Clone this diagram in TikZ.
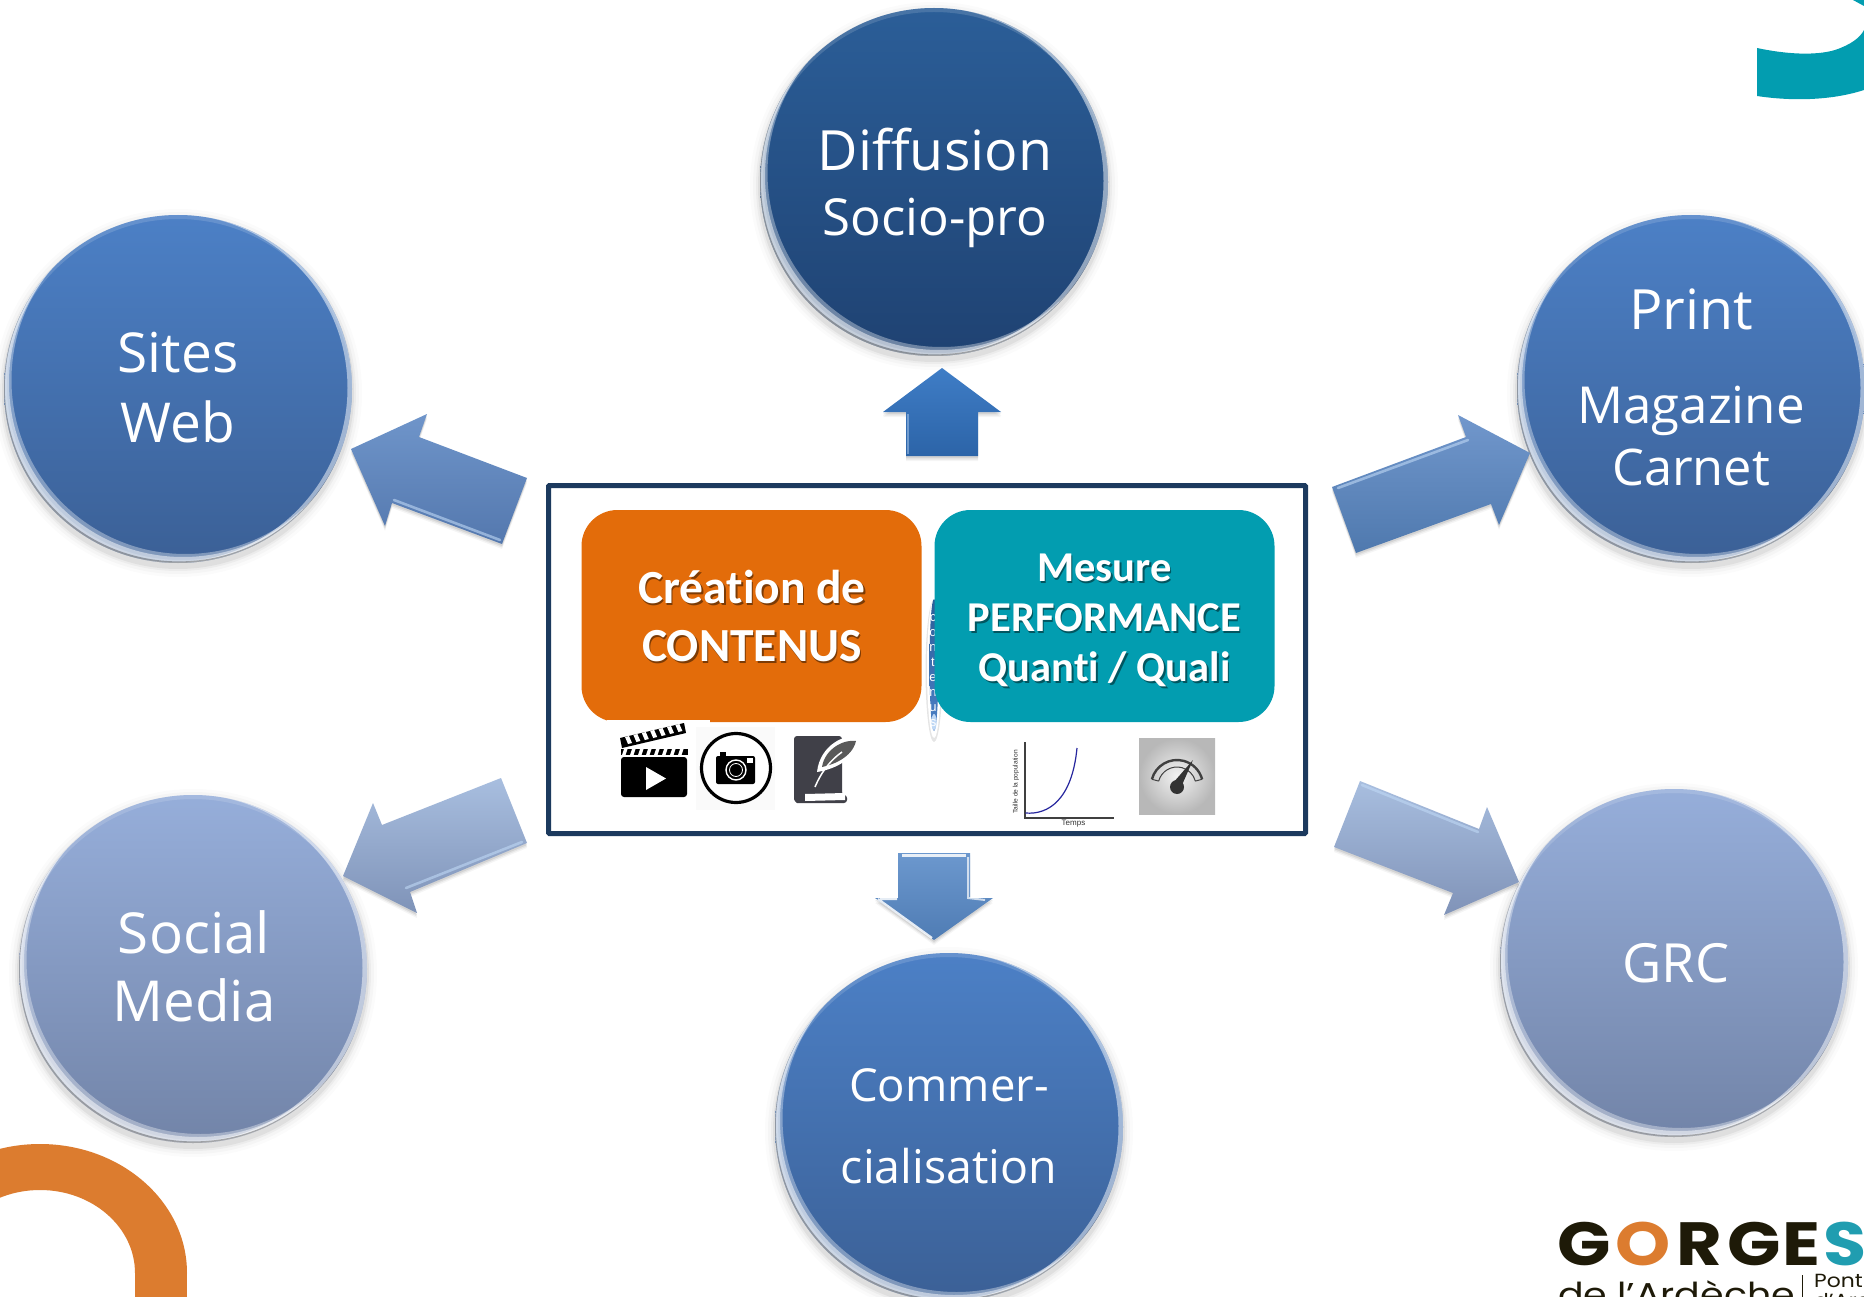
\documentclass[tikz,border=0pt]{standalone}
\usepackage{fontspec}
\setmainfont{Open Sans}
\newfontfamily\carl[Ligatures=NoCommon]{Carlito}
\newfontfamily\popw[FakeStretch=1.15]{Poppins}
\newfontfamily\lib{Liberation Sans}
\usetikzlibrary{calc}
\definecolor{navyA}{HTML}{2B5E98}\definecolor{navyB}{HTML}{1F4272}
\definecolor{midA}{HTML}{4C80C6}\definecolor{midB}{HTML}{3B6096}
\definecolor{paleA}{HTML}{96AEDA}\definecolor{paleB}{HTML}{7284A8}
\definecolor{frame}{HTML}{1C3A5E}
\definecolor{orangeBox}{HTML}{E36C0A}
\definecolor{tealBox}{HTML}{029DB0}
\definecolor{ringOrange}{HTML}{DC7C2F}
\definecolor{logoDark}{HTML}{1E1A08}
\definecolor{logoTeal}{HTML}{209DB0}
\definecolor{hl}{HTML}{BFD8F5}
\definecolor{bookGrey}{HTML}{404048}
\tikzset{
  x=1pt,y=-1pt,
  orbnode/.style={circle,minimum size=348pt,inner sep=0pt,shading=axis,shading angle=0},
  txt/.style={anchor=base,inner sep=0pt,text=white},
  ctxt/.style={anchor=base,inner sep=0pt,text=white,font=\carl\bfseries},
  logo/.style={anchor=base west,inner sep=0pt,font=\popw\bfseries\fontsize{61}{61}\selectfont},
  softline/.style={line cap=round,line width=2.6pt,opacity=.6,color=hl},
}
\newcommand\orb[5]{%
  \foreach \s/\o in {10/.015,7/.025,4/.035,2/.05}{\fill[black,opacity=\o] (#2,#3+4) circle (174+\s);}
  \node[orbnode,top color=#4,bottom color=#5] (#1) at (#2,#3) {};
  \begin{scope}
    \clip (#1.center) circle (174);
    \fill[white,opacity=.2,even odd rule] (#2-200,#3-200) rectangle (#2+200,#3+200) (#2+3,#3-3) circle (174);
    \fill[white,opacity=.5,even odd rule] (#2-200,#3-200) rectangle (#2+200,#3+200) (#2+5,#3-6) circle (174);
    \fill[white,opacity=.35,even odd rule] (#2-200,#3-200) rectangle (#2+200,#3+200) (#2+7.5,#3-9) circle (174);
    \fill[white,opacity=.5,even odd rule] (#2-200,#3-200) rectangle (#2+200,#3+200) (#2-4.5,#3-1) circle (174);
    \fill[white,opacity=.14,even odd rule] (#2-200,#3-200) rectangle (#2+200,#3+200) (#2,#3+4) circle (174);
    \fill[black,opacity=.3,even odd rule] (#2-200,#3-200) rectangle (#2+200,#3+200) (#2+.8,#3-1.6) circle (174);
  \end{scope}
}
\newcommand\tx[5]{\node[txt,font=\fontsize{#4}{#4}\selectfont] (#1) at (#2,#3) {#5};}
\newcommand\ctx[5]{%
  \node[ctxt,text=black,opacity=.45,font=\carl\bfseries\fontsize{#4}{#4}\selectfont] (#1s) at (#2+1.5,#3+2) {#5};
  \node[ctxt,font=\carl\bfseries\fontsize{#4}{#4}\selectfont] (#1) at (#2,#3) {#5};}
\newcommand\barrow[3]{%
  \definecolor{arrA}{HTML}{#2}\definecolor{arrB}{HTML}{#3}%
  \foreach \s/\o in {5/.04,3.5/.06,2/.08}{\fill[black,opacity=\o,yshift=-\s pt] #1 -- cycle;}
  \shade[top color=arrA,bottom color=arrB] #1 -- cycle;
}
\begin{document}
\begin{tikzpicture}
\useasboundingbox (0,0) rectangle (1864,1297);
\clip (0,0) rectangle (1864,1297);
\fill[white] (0,0) rectangle (1864,1297);
% corner decorations
\fill[ringOrange,even odd rule] (40,1273) ellipse (147 and 129) (40,1273) ellipse (95 and 83);
\fill[ringOrange] (135,1273) rectangle (187,1297);
\fill[white] (-60,1273) rectangle (135,1297);
\fill[tealBox] (1757,48) .. controls (1785,54) and (1815,56) .. (1835,50) .. controls (1850,45) and (1860,38) .. (1864,30)
  -- (1864,90) .. controls (1830,101) and (1790,101) .. (1757,96) -- cycle;
\fill[tealBox] (1853,0) -- (1864,0) -- (1864,6) -- cycle;
% circles
\orb{diff}{934}{182}{navyA}{navyB}
\orb{web}{178}{389}{midA}{midB}
\orb{print}{1691}{389}{midA}{midB}
\orb{social}{193}{969}{paleA}{paleB}
\orb{grc}{1674}{963}{paleA}{paleB}
\orb{comm}{949}{1127}{midA}{midB}
% block arrows
\barrow{(942,368) -- (1001,412) -- (978,412) -- (978,456) -- (906,456) -- (906,412) -- (883,412)}{3F7DC6}{2C64A8}
\draw[softline,line cap=butt,opacity=.45] (908,414) -- (908,454);
\barrow{(351,449) -- (427,414) -- (419,437) -- (527,478) -- (502,544) -- (392,503) -- (385,526)}{6F95CA}{5478AE}
\draw[softline] (394,500) -- (500,540);
\barrow{(1530,453) -- (1458,415) -- (1466,437) -- (1332,487) -- (1356,553) -- (1491,504) -- (1499,525)}{7197CC}{4F79AE}
\draw[softline] (1338,488) -- (1468,440);
\barrow{(343,876) -- (373,803) -- (382,825) -- (501,778) -- (527,843) -- (410,892) -- (417,913)}{A8BEDF}{7F93B8}
\draw[softline] (406,888) -- (522,842);
\barrow{(1360,781) -- (1479,829) -- (1487,807) -- (1519,882) -- (1444,915) -- (1453,893) -- (1334,847)}{A8BEDF}{8093B8}
\draw[softline] (1362,785) -- (1478,832);
\barrow{(898,853) -- (970,853) -- (970,898) -- (993,898) -- (934,940) -- (875,898) -- (898,898)}{6C98CE}{4F7CB4}
\draw[white,line width=2.5pt,opacity=.85] (902,855.5) -- (966,855.5);
\draw[white,line width=2pt,opacity=.7] (968,857) -- (968,898) -- (985,900);
\draw[white,line width=2.2pt,opacity=.85] (880,899) -- (897,899) (878,899) -- (932,938);
% central frame
\node[draw=frame,line width=5pt,fill=white,rounded corners=1pt,minimum width=757pt,minimum height=348pt,inner sep=0pt] (frame) at (927,659.5) {};
% small ellipse
\fill[black,opacity=.1] (934,671) ellipse (8.5 and 71);
\fill[white] (934,669) ellipse (7 and 69);
\shade[top color=navyA,bottom color=midA] (934,665) ellipse (4.5 and 66);
\fill[hl] (934,722) ellipse (2.5 and 8);
\node[inner sep=0pt,text=white,align=center,font=\lib\fontsize{13}{15}\selectfont] (cont) at (933,670.5) {c\\o\\n\\t\\e\\n\\u\\s};
% two boxes
\fill[orangeBox,rounded corners=36pt] (581.5,510) rectangle (921.5,722);
\fill[tealBox,rounded corners=36pt] (934.5,510) rectangle (1274.5,722);
\fill[white] (607,720) rectangle (710,724);
\ctx{crea}{752}{603}{47.5}{Création de}
\ctx{cont2}{752}{661}{47.5}{CONTENUS}
\ctx{mes}{1104.5}{581}{42.5}{Mesure}
\ctx{perf}{1104.5}{631}{42.5}{PERFORMANCE}
\ctx{quan}{1104.5}{681}{42.5}{Quanti / Quali}
% clapper icon
\fill[black] (620,738) -- (684,723) -- (686,733) -- (622,748) -- cycle;
\foreach \i in {0,...,6}{\fill[white] ($(625,737)+(\i*8.4,-\i*2)$) -- ++(4,-1) -- ++(3,7) -- ++(-4,1) -- cycle;}
\fill[black] (621,749) rectangle (688,755);
\foreach \i in {0,...,7}{\fill[white] ($(624,749)+(\i*8,0)$) -- ++(3.5,0) -- ++(-2,6) -- ++(-3.5,0) -- cycle;}
\fill[black,rounded corners=3pt] (621,757) rectangle (687,797);
\fill[white] (646,767) -- (666,778.5) -- (646,790) -- cycle;
% camera icon
\fill[black!2] (696,727) rectangle (775,810);
\draw[black,line width=3.2pt,fill=white] (736,768) circle (34.5);
\fill[black,rounded corners=2pt] (716,756) rectangle (755,784);
\fill[black] (720,752) rectangle (726,757);
\fill[white] (747,758) rectangle (753,763);
\draw[white,line width=1.4pt] (736,770) circle (10);
\draw[white,line width=.8pt] (736,770) circle (6.5);
% quill book icon
\fill[bookGrey,rounded corners=3pt] (794,736) -- (842,736) -- (842,795) -- (847,795) -- (847,803) -- (800,803) .. controls (796,803) and (794,800) .. (794,796) -- cycle;
\fill[white] (805,794) -- (845,793) -- (845,800) -- (805,801) -- cycle;
\fill[white] (860,737) .. controls (845,733) and (820,745) .. (817,772) .. controls (830,770) and (856,762) .. (860,737) -- cycle;
\fill[black!65] (856,741) .. controls (845,739) and (825,748) .. (822,767) .. controls (832,765) and (852,758) .. (856,741) -- cycle;
\draw[white,line width=1.5pt] (842,752) .. controls (828,762) and (820,775) .. (815,787);
% chart icon
\draw[black!75,line width=1.2pt] (1025,742) -- (1025,818) -- (1114,818);
\draw[blue!55!black!85!white,line width=1.2pt] (1025.5,813) .. controls (1048,815) and (1072,800) .. (1077,748);
\node[inner sep=0pt,rotate=90,text=black!80,font=\lib\fontsize{6.6}{7}\selectfont] (tail) at (1016,782) {Taille de la population};
\node[inner sep=0pt,text=black!80,font=\lib\fontsize{8}{9}\selectfont] (temps) at (1073.5,824) {Temps};
% gauge icon
\begin{scope}[xshift=-3pt]
\shade[inner color=black!5,outer color=black!28] (1142,738) rectangle (1218,814);
\draw[black!75,line width=2.4pt] (1180,786) ++(195:26) arc (195:345:26);
\draw[black!75,line width=1pt] (1180,786) ++(195:19) arc (195:345:19);
\draw[black!75,line width=1pt] (1180,786) ++(195:19) -- ++(195:7) (1180,786) ++(345:19) -- ++(345:7);
\fill[black!80] (1196,760) -- (1185,785) -- (1176,783) -- cycle;
\fill[black!80] (1180,787) circle (7);
\end{scope}
% circle labels
\tx{l1}{935}{170.5}{55.5}{Diffusion}
\tx{l2}{935}{236}{51}{Socio-pro}
\tx{l3}{178}{373}{55}{Sites}
\tx{l4}{178}{442}{55}{Web}
\tx{l5}{1691}{330}{55.5}{Print}
\tx{l6}{1691}{423}{51}{Magazine}
\tx{l7}{1691}{485}{50.5}{Carnet}
\tx{l8}{194}{953}{56.5}{Social}
\tx{l9}{194}{1021}{56.5}{Media}
\tx{l10}{1676}{982}{54}{GRC}
\tx{l11}{949}{1101}{45.5}{Commer-}
\tx{l12}{949}{1183}{46.5}{cialisation}
% logo
\node[logo,text=logoDark] (g1) at (1557,1265) {G};
\node[logo,text=ringOrange] (o1) at (1615,1265) {O};
\node[logo,text=logoDark] (r1) at (1676,1265) {R};
\node[logo,text=logoDark] (g2) at (1727,1265) {G};
\node[logo,text=logoDark] (e1) at (1782,1265) {E};
\node[logo,text=logoTeal] (s1) at (1823,1265) {S};
\node[anchor=base west,inner sep=0pt,text=logoDark,font=\popw\fontsize{33}{33}\selectfont] (ard) at (1558,1306) {de l’Ardèche};
\draw[logoDark,line width=.8pt] (1802,1275) -- (1802,1297);
\node[anchor=base west,inner sep=0pt,text=logoDark,font=\popw\fontsize{19}{19}\selectfont] (pont) at (1814,1287) {Pont};
\node[anchor=base west,inner sep=0pt,text=logoDark,font=\popw\fontsize{19}{19}\selectfont] (arc) at (1814,1307) {d’Arc};
\end{tikzpicture}
\end{document}
